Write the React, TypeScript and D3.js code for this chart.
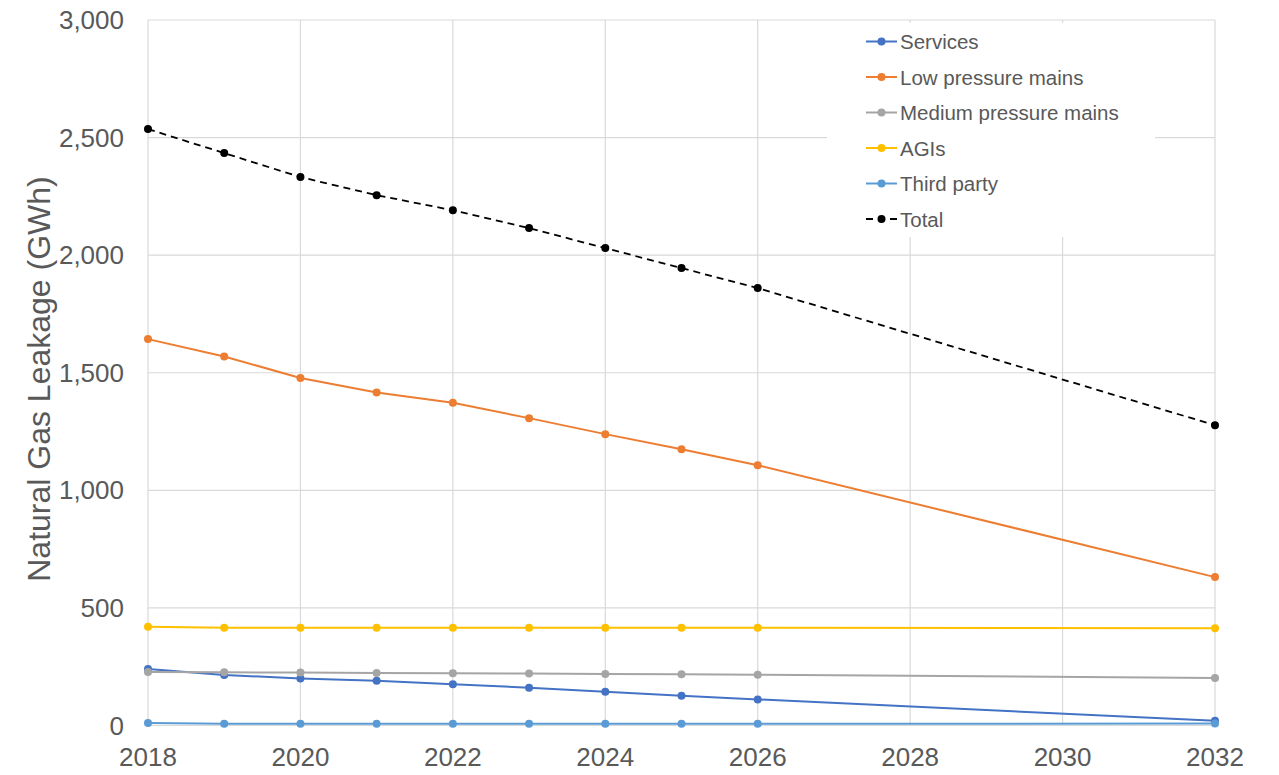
import React from "react";
import * as d3 from "d3";

const years = [2018, 2019, 2020, 2021, 2022, 2023, 2024, 2025, 2026, 2032];
const services = [240, 215, 200, 190, 175, 161, 144, 127, 111, 20];
const lowPressureMains = [1643, 1569, 1478, 1416, 1372, 1307, 1239, 1175, 1107, 631];
const mediumPressureMains = [227, 226, 225, 223, 222, 221, 219, 218, 216, 202];
const agis = [420, 416, 416, 416, 416, 416, 416, 416, 416, 414];
const thirdParty = [11, 7, 7, 7, 7, 7, 7, 7, 7, 8];
const total = [2536, 2434, 2332, 2255, 2191, 2115, 2030, 1945, 1860, 1277];

const xTicks = [2018, 2020, 2022, 2024, 2026, 2028, 2030, 2032];
const yTicks = [0, 500, 1000, 1500, 2000, 2500, 3000];

const series = [
  { name: "Services", values: services, color: "#4472C4", dashed: false },
  { name: "Low pressure mains", values: lowPressureMains, color: "#ED7D31", dashed: false },
  { name: "Medium pressure mains", values: mediumPressureMains, color: "#A5A5A5", dashed: false },
  { name: "AGIs", values: agis, color: "#FFC000", dashed: false },
  { name: "Third party", values: thirdParty, color: "#5B9BD5", dashed: false },
  { name: "Total", values: total, color: "#000000", dashed: true },
];

const W = 1279;
const H = 775;
const left = 148;
const right = 1215;
const top = 20;
const bottom = 725.5;

export default function App() {
  const x = d3.scaleLinear().domain([2018, 2032]).range([left, right]);
  const y = d3.scaleLinear().domain([0, 3000]).range([bottom, top]);
  const fmt = d3.format(",");
  const font = "'Liberation Sans', Arial, sans-serif";
  const textColor = "#595959";
  const grid = "#d9d9d9";

  const line = d3
    .line<[number, number]>()
    .x((d) => x(d[0]))
    .y((d) => y(d[1]));

  const legendX = 866;
  const legendY0 = 41.5;
  const legendStep = 35.5;

  return (
    <svg
      width={W}
      height={H}
      style={{ position: "absolute", left: 0, top: 0, background: "#fff" }}
      fontFamily={font}
    >
      <rect x={0} y={0} width={W} height={H} fill="#fff" />
      {/* horizontal gridlines */}
      {yTicks.map((t) => (
        <line key={"gy" + t} x1={left} x2={right} y1={y(t)} y2={y(t)} stroke={grid} strokeWidth={1.2} />
      ))}
      {/* vertical gridlines */}
      {xTicks.map((t) => (
        <line key={"gx" + t} x1={x(t)} x2={x(t)} y1={top} y2={bottom} stroke={grid} strokeWidth={1.2} />
      ))}

      {/* legend background */}
      <rect x={827} y={23} width={328} height={214} fill="#fff" />

      {/* y tick labels */}
      {yTicks.map((t) => (
        <text
          key={"ly" + t}
          x={124}
          y={y(t)}
          textAnchor="end"
          dominantBaseline="central"
          fontSize={26}
          fill={textColor}
        >
          {fmt(t)}
        </text>
      ))}
      {/* x tick labels */}
      {xTicks.map((t) => (
        <text key={"lx" + t} x={x(t)} y={757} textAnchor="middle" dominantBaseline="central" fontSize={26} fill={textColor}>
          {t}
        </text>
      ))}

      {/* axis title */}
      <text
        transform={`translate(39,379) rotate(-90)`}
        textAnchor="middle"
        dominantBaseline="central"
        fontSize={32}
        fill={textColor}
      >
        Natural Gas Leakage (GWh)
      </text>

      {/* series */}
      {series.map((s) => {
        const pts = years.map((yr, i) => [yr, s.values[i]] as [number, number]);
        return (
          <g key={s.name}>
            <path
              d={line(pts) || ""}
              fill="none"
              stroke={s.color}
              strokeWidth={s.dashed ? 1.8 : 2}
              strokeDasharray={s.dashed ? "7,5" : undefined}
            />
            {pts.map((p, i) => (
              <circle key={i} cx={x(p[0])} cy={y(p[1])} r={4} fill={s.color} />
            ))}
          </g>
        );
      })}

      {/* legend */}
      {series.map((s, i) => {
        const ly = legendY0 + i * legendStep;
        return (
          <g key={"leg" + s.name}>
            <line
              x1={legendX}
              x2={legendX + 31}
              y1={ly}
              y2={ly}
              stroke={s.color}
              strokeWidth={s.dashed ? 1.8 : 2}
              strokeDasharray={s.dashed ? "7,5" : undefined}
            />
            <circle cx={legendX + 15.5} cy={ly} r={4} fill={s.color} />
            <text x={legendX + 34} y={ly} dominantBaseline="central" fontSize={20.5} fill={textColor}>
              {s.name}
            </text>
          </g>
        );
      })}
    </svg>
  );
}
